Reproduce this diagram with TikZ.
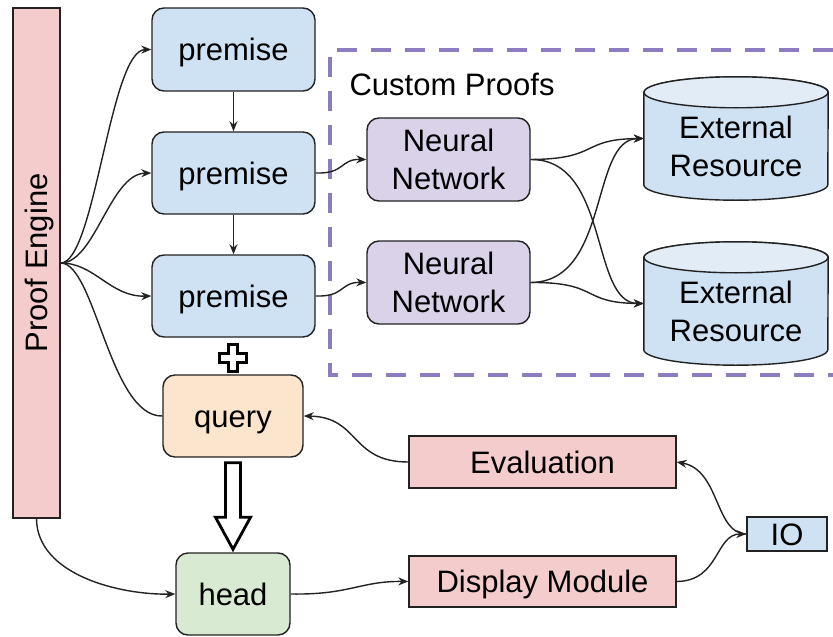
\documentclass[tikz,border=0pt]{standalone}
\usepackage{fontspec}
\setmainfont{Liberation Sans}
\usetikzlibrary{arrows.meta,calc}
\definecolor{edge}{HTML}{222222}
\definecolor{pinkfill}{HTML}{F4CCCC}
\definecolor{bluefill}{HTML}{CFE2F3}
\definecolor{bluetop}{HTML}{E1ECF7}
\definecolor{purplefill}{HTML}{D9D2E9}
\definecolor{orangefill}{HTML}{FCE5CD}
\definecolor{greenfill}{HTML}{D9EAD3}
\definecolor{dashpurple}{HTML}{8E7CC3}
\begin{document}
\begin{tikzpicture}[x=1pt,y=-1pt,
  every node/.style={font=\fontsize{31}{38}\selectfont},
  box/.style={draw=edge, line width=1.4pt, inner sep=0pt, align=center},
  oneline/.style={text height=22pt, text depth=0pt},
  rbox/.style={box, rounded corners=12pt},
  conn/.style={draw=edge, line width=1.4pt, -{Stealth[length=10pt,width=8pt]}},
  plainconn/.style={draw=edge, line width=1.4pt},
  cylbody/.style={draw=edge, line width=1.4pt, fill=bluefill},
  cyltop/.style={draw=edge, line width=1.4pt, fill=bluetop},
  hollow/.style={draw=black, line width=2.8pt, fill=white, line join=miter},
  groupframe/.style={draw=dashpurple, line width=4pt, dash pattern=on 20pt off 14pt}]
\useasboundingbox (0,0) rectangle (833,637);

% proof engine bar
\node[box, fill=pinkfill, minimum width=47, minimum height=510] (pe) at (36.5,263) {};
\node[rotate=90, oneline] (pelabel) at (pe.center) {Proof Engine};

% premises, query, head
\node[rbox, oneline, fill=bluefill, minimum width=163, minimum height=83] (p1) at (233.5,49.5) {premise};
\node[rbox, oneline, fill=bluefill, minimum width=163, minimum height=82] (p2) at (233.5,173) {premise};
\node[rbox, oneline, fill=bluefill, minimum width=163, minimum height=82] (p3) at (233.5,296) {premise};
\node[rbox, oneline, fill=orangefill, minimum width=140, minimum height=82] (query) at (233,416) {query};
\node[rbox, oneline, fill=greenfill, minimum width=114, minimum height=82] (head) at (233,594) {head};

% custom proofs group
\draw[groupframe] (833,50) -- (330,50) -- (330,375) -- (833,375);
\node[anchor=base west] (cp) at (346,95) {Custom Proofs};
\node[rbox, fill=purplefill, minimum width=163, minimum height=83] (nn1) at (448.5,159.5) {Neural\\Network};
\node[rbox, fill=purplefill, minimum width=163, minimum height=83] (nn2) at (448.5,282.5) {Neural\\Network};

% external resources (cylinders)
\node[inner sep=0pt, minimum width=184, minimum height=123] (er1) at (736,138.5) {};
\node[inner sep=0pt, minimum width=184, minimum height=123] (er2) at (736,303.5) {};
\foreach \c in {er1,er2}{
  \draw[cylbody] ($(\c.north west)+(0,15.5)$) -- ($(\c.south west)+(0,-15.5)$)
    arc[start angle=180, end angle=360, x radius=92pt, y radius=15.5pt]
    -- ($(\c.north east)+(0,15.5)$)
    arc[start angle=0, end angle=180, x radius=92pt, y radius=15.5pt] -- cycle;
  \draw[cyltop] ($(\c.north)+(0,15.5)$) ellipse[x radius=92pt, y radius=15.5pt];
}
\node[align=center] (er1t) at ($(er1.center)+(0,7.5)$) {External\\Resource};
\node[align=center] (er2t) at ($(er2.center)+(0,7.5)$) {External\\Resource};

% output side
\node[box, oneline, fill=pinkfill, minimum width=267, minimum height=52] (eval) at (542.5,462) {Evaluation};
\node[box, oneline, fill=pinkfill, minimum width=267, minimum height=51] (disp) at (542.5,581.5) {Display Module};
\node[box, oneline, fill=bluefill, minimum width=80, minimum height=34] (io) at (787,534) {IO};

% plus sign between premises and query
\coordinate (plus) at (233,358);
\draw[hollow] ($(plus)+(-4.5,-13.5)$) -- ($(plus)+(4.5,-13.5)$) -- ($(plus)+(4.5,-4.5)$)
  -- ($(plus)+(13.5,-4.5)$) -- ($(plus)+(13.5,4.5)$) -- ($(plus)+(4.5,4.5)$)
  -- ($(plus)+(4.5,13.5)$) -- ($(plus)+(-4.5,13.5)$) -- ($(plus)+(-4.5,4.5)$)
  -- ($(plus)+(-13.5,4.5)$) -- ($(plus)+(-13.5,-4.5)$) -- ($(plus)+(-4.5,-4.5)$) -- cycle;

% hollow arrow from query down to head
\coordinate (ha) at ($(query.south)+(0,5)$);
\coordinate (hb) at ($(head.north)+(0,-3)$);
\draw[hollow] ($(ha)+(-7.5,0)$) -- ($(ha)+(7.5,0)$) -- ($(hb)+(7.5,-32)$) -- ($(hb)+(17.5,-32)$)
  -- (hb) -- ($(hb)+(-17.5,-32)$) -- ($(hb)+(-7.5,-32)$) -- cycle;

% connectors from the proof engine
\draw[conn] (pe.east) .. controls (95,263) and (110,50) .. (p1.west);
\draw[conn] (pe.east) .. controls (95,263) and (110,174) .. (p2.west);
\draw[conn] (pe.east) .. controls (95,263) and (110,297) .. (p3.west);
\draw[plainconn] (pe.east) .. controls (95,263) and (110,417) .. (query.west);
\draw[conn] (pe.south) .. controls (37,575) and (120,595) .. (head.west);

% premise chain
\draw[conn] (p1.south) -- (p2.north);
\draw[conn] (p2.south) -- (p3.north);

% premises into networks
\draw[conn] (p2.east) .. controls (345,174) and (340,159) .. (nn1.west);
\draw[conn] (p3.east) .. controls (345,297) and (340,282) .. (nn2.west);

% networks into external resources
\draw[conn] (nn1.east) .. controls (600,159) and (580,139) .. (er1.west);
\draw[conn] (nn1.east) .. controls (610,159) and (590,303) .. (er2.west);
\draw[conn] (nn2.east) .. controls (610,282) and (590,139) .. (er1.west);
\draw[conn] (nn2.east) .. controls (600,282) and (580,303) .. (er2.west);

% output connectors
\draw[conn] (eval.west) .. controls (350,462) and (360,417) .. (query.east);
\draw[conn] (head.east) .. controls (350,595) and (360,581) .. (disp.west);
\draw[conn] (disp.east) .. controls (720,581) and (715,534) .. (io.west);
\draw[conn] (io.west) .. controls (715,534) and (720,470) .. (eval.east);
\end{tikzpicture}
\end{document}
